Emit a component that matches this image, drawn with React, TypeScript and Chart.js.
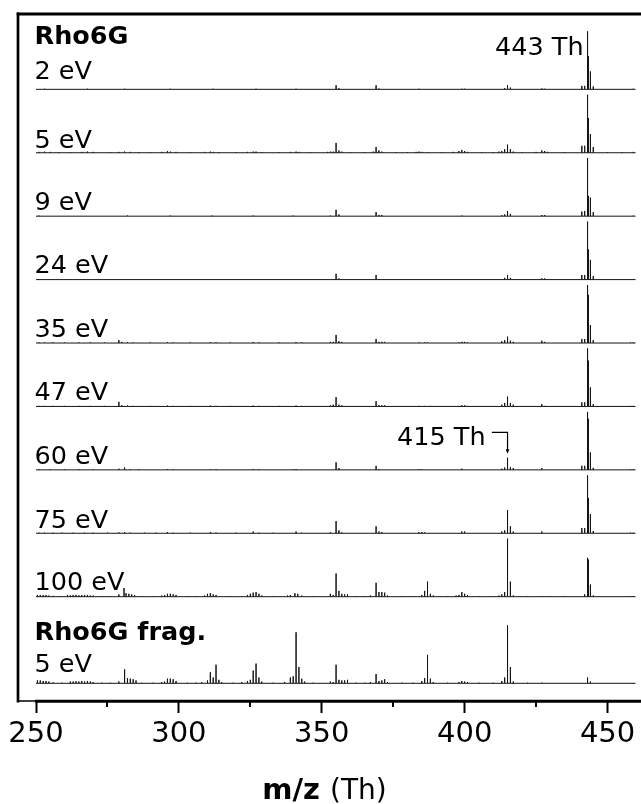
import React, { useEffect, useRef } from 'react';
import { Chart, registerables } from 'chart.js';

Chart.register(...registerables);

// ---------- data ----------
const X_MIN = 243.7;
const X_MAX = 461.7;
const MZ_START = 250;
const MZ_END = 459.8;
const TICK_VALUES = [250, 275, 300, 325, 350, 375, 400, 425, 450];
const MAJOR_TICKS = [250, 300, 350, 400, 450];

const TRACE_LABELS = ['2 eV', '5 eV', '9 eV', '24 eV', '35 eV', '47 eV', '60 eV', '75 eV', '100 eV', '5 eV'];
const GROUP_TITLES = ['Rho6G', 'Rho6G frag.'];
const AXIS_TITLE_BOLD = 'm/z';
const AXIS_TITLE_UNIT = '(Th)';
const PARENT_LABEL = '443 Th';
const PARENT_MZ = 443;
const FRAGMENT_LABEL = '415 Th';
const FRAGMENT_MZ = 415;

// [m/z, relative intensity %]
const PEAKS_2EV: [number, number][] = [
  [253, 1], [268, 1], [281, 1], [297, 1], [312, 1], [327, 1], [341, 1],
  [355, 7], [356, 2], [369, 7], [370, 1.5], [384, 1], [399, 1], [400, 1], [414, 2], [415, 7], [416, 3], [427, 1.5], [428, 1],
  [441, 6], [442, 6], [443, 100], [443.3, 57], [444, 31], [445, 5], [459, 1],
];
const PEAKS_5EV: [number, number][] = [
  [251, 1.5], [253, 2], [255, 1.5], [258, 1], [262, 1], [266, 1.5], [268, 2], [270, 1.5], [276, 1], [279, 1.5], [281, 2], [283, 1.5],
  [286, 1], [290, 1], [294, 1.5], [296, 3], [297, 2], [299, 1.5], [304, 1], [309, 1.5], [311, 2], [312, 1.5], [314, 1], [320, 1],
  [324, 1.5], [326, 2], [327, 2], [329, 1], [335, 1], [339, 1.5], [341, 2], [342, 1.5], [346, 1],
  [352, 1.5], [353, 2], [354, 2], [355, 17], [356, 4], [357, 2], [360, 1], [365, 1], [368, 2], [369, 10], [370, 4], [371, 2],
  [376, 1], [380, 1], [383, 1.5], [384, 2], [385, 1.5], [387, 1], [392, 1], [396, 1.5], [398, 3], [399, 5], [400, 3], [401, 1.5],
  [406, 1], [410, 1], [412, 2], [413, 3], [414, 6], [415, 14], [416, 6], [417, 2], [420, 1], [425, 1.5], [427, 4], [428, 3], [429, 1.5], [435, 1],
  [441, 12], [442, 12], [443, 100], [443.3, 60], [444, 32], [445, 10], [450, 1], [455, 1], [459, 1.5],
];
const PEAKS_9EV: [number, number][] = [
  [251, 1], [282, 1], [297, 1], [311.6, 1], [326, 1], [340, 1],
  [353, 1], [355, 11], [356, 3], [369, 7], [370, 2], [371, 2], [399, 1], [413, 1.5], [414, 3], [415, 9], [416, 4], [427, 2], [428, 2],
  [441, 8], [442, 9], [443, 100], [443.3, 35], [444, 32], [445, 7], [459, 1],
];
const PEAKS_24EV: [number, number][] = [
  [251, 1], [282, 1], [297, 1], [312, 1], [326, 1], [340, 1],
  [355, 10], [356, 2], [369, 8], [370, 1], [384, 0.5], [399, 0.5], [414, 3], [415, 8], [416, 3], [427, 2], [428, 2],
  [441, 8], [442, 8], [443, 100], [443.3, 52], [444, 34], [445, 6], [459, 1],
];
const PEAKS_35EV: [number, number][] = [
  [251, 1], [253, 1], [256, 1], [260, 1], [265, 1], [269, 1], [274, 1], [279, 5], [280, 2], [282, 1.5], [284, 1], [290, 1],
  [296, 1.5], [298, 1], [304, 1], [311, 1.5], [313, 1], [318, 1], [326, 1.5], [328, 1], [335, 1], [341, 1.5], [343, 1],
  [353, 2], [354, 2], [355, 14], [356, 3], [357, 2], [369, 7], [370, 2], [371, 2], [372, 2], [384, 1], [386, 1], [387, 1],
  [398, 1], [399, 2], [400, 2], [401, 1], [413, 3], [414, 5], [415, 11], [416, 4], [417, 2], [427, 4], [428, 2],
  [441, 7], [442, 7], [443, 100], [443.3, 83], [444, 31], [445, 5], [458, 1], [459, 1],
];
const PEAKS_47EV: [number, number][] = [
  [251, 1], [253, 1], [256, 1], [260, 1], [265, 1], [269, 1], [274, 1], [279, 8], [280, 2], [282, 1.5], [284, 1], [290, 1],
  [296, 1.5], [298, 1], [304, 1], [311, 1.5], [313, 1], [318, 1], [326, 1.5], [328, 1], [335, 1], [341, 1.5], [343, 1],
  [353, 2], [354, 3], [355, 16], [356, 3], [357, 2], [369, 9], [370, 2], [371, 2], [372, 2], [384, 1], [386, 1], [388, 1],
  [398, 1], [399, 2], [400, 2], [401, 1], [413, 3], [414, 6], [415, 17], [416, 6], [417, 3], [427, 4], [428, 1],
  [441, 7], [442, 7], [443, 100], [443.3, 79], [444, 33], [445, 4], [458, 1], [459, 1],
];
const PEAKS_60EV: [number, number][] = [
  [251, 1], [255, 1], [260, 1], [265, 1], [270, 1], [279, 2], [281, 4], [283, 1], [286, 1], [296, 1.5], [298, 1], [311, 1],
  [313, 1], [326, 1.5], [328, 1], [340, 1], [341, 1.5],
  [355, 13], [356, 3], [369, 7], [370, 1], [384, 1], [385, 1], [399, 2], [413, 2], [414, 4], [415, 21], [416, 5], [417, 3], [427, 3],
  [441, 7], [442, 7], [443, 100], [443.3, 88], [444, 30], [445, 3.5], [458, 1], [459, 1],
];
const PEAKS_75EV: [number, number][] = [
  [251, 1], [253, 1], [256, 1], [259, 1], [263, 1], [267, 1], [270, 1], [275, 1], [279, 1.5], [281, 2], [283, 1], [288, 1],
  [292, 1], [296, 2], [298, 1], [304, 1], [311, 2], [313, 1], [320, 1], [326, 3], [328, 1], [333, 1], [341, 3], [343, 1],
  [353, 1.5], [355, 21], [356, 5], [357, 1.5], [369, 12], [370, 3], [371, 2], [384, 2], [385, 2], [386, 1.5], [399, 3], [400, 3],
  [413, 3], [414, 5], [415, 40], [416, 12], [417, 3], [427, 3],
  [441, 9], [442, 9], [443, 100], [443.3, 61], [444, 33], [445, 4], [458, 1], [459, 1],
];
const PEAKS_100EV: [number, number][] = [
  [250.5, 3], [251.5, 3], [252.5, 3], [253.5, 3], [254.5, 2], [256, 1.5], [258, 1], [261, 3], [262, 2.5], [263, 3], [264, 3],
  [265, 2.5], [266, 3], [267, 3], [268, 3], [269, 2], [270, 2], [273, 1], [276, 1], [279, 4], [280.8, 15], [281.5, 6], [282.5, 5],
  [283.5, 4], [284.5, 3], [287, 1], [291, 1], [294, 2], [295, 3], [296, 5], [297, 5], [298, 4], [299, 3], [303, 1], [306, 1],
  [309, 2], [310, 5], [311, 6], [312, 4], [313, 3], [318, 1], [322, 1], [324, 3], [325, 5], [326, 7], [327, 8], [328, 5], [329, 2],
  [333, 1], [338, 2], [339, 3], [340.6, 6], [341.6, 5], [343, 2], [347, 1],
  [353, 5], [354, 3], [355, 40], [356, 10], [357, 5], [358, 4], [359, 4], [362, 1], [365, 1], [367, 2], [369, 24], [370, 8],
  [371, 8], [372, 7], [373, 2], [378, 1], [382, 1], [385, 3], [386, 10], [387, 26], [388, 5], [389, 2], [394, 1], [397, 2],
  [398, 3], [399, 8], [400, 5], [401, 3], [405, 1], [410, 1], [412, 2], [413, 4], [414, 8], [415, 100], [416, 26], [417, 2],
  [422, 1], [427, 1], [430, 1], [435, 1],
  [442, 4], [443, 67], [443.3, 64], [444, 21], [445, 2], [458, 1], [459, 1],
];
const PEAKS_FRAG_5EV: [number, number][] = [
  [250.5, 5], [251.5, 5], [252.5, 4], [253.5, 4], [254.5, 3], [256, 1.5], [259, 1], [262, 3], [263, 3], [264, 3.5], [265, 3],
  [266, 4], [267, 3], [268, 4], [269, 3], [270, 2], [273, 1], [276, 1], [279, 3], [281, 24], [282, 9], [283, 8], [284, 7], [285, 5],
  [287, 1], [291, 1], [294, 2], [295, 3], [296, 8], [297, 8], [298, 7], [299, 4], [303, 1], [306, 1], [308, 2], [310, 5], [311, 19],
  [312, 10], [313, 32], [314, 6], [315, 2], [319, 1], [322, 2], [324, 4], [325, 6], [326, 22], [327, 34], [328, 10], [329, 3],
  [333, 1], [337, 2], [339, 10], [340, 12], [341, 88], [342, 28], [343, 8], [344, 3], [347, 1],
  [353, 3], [354, 2], [355, 32], [356, 6], [357, 5], [358, 5], [359, 6], [362, 1], [365, 1], [367, 2], [369, 16], [370, 4],
  [371, 5], [372, 7], [373, 2], [378, 1], [382, 1], [385, 4], [386, 9], [387, 49], [388, 8], [389, 2], [394, 1], [398, 2],
  [399, 4], [400, 3], [401, 2], [405, 1], [410, 1], [413, 4], [414, 10], [415, 100], [416, 28], [417, 3], [422, 1], [427, 1],
  [432, 0.5], [443, 10], [444, 3], [459, 0.5],
];

const SPECTRA = [
  PEAKS_2EV, PEAKS_5EV, PEAKS_9EV, PEAKS_24EV, PEAKS_35EV,
  PEAKS_47EV, PEAKS_60EV, PEAKS_75EV, PEAKS_100EV, PEAKS_FRAG_5EV,
];

// ---------- layout (not data) ----------
const W = 641;
const H = 804;
const Y_MAX = 687; // chart-area height in y units
const BASE_LAST_STACK = 104.3;
const TRACE_STEP = 63.42;
const BASE_FRAG = 17.7;
const UNITS_PER_PCT = 0.58;
const LABEL_GAP = [10, 5, 6.5, 6.5, 6, 6.5, 6, 5, 7, 11.5];
const TEXT_FONT = '25.5px "DejaVu Sans"';
const BOLD_FONT = 'bold 25.5px "DejaVu Sans"';

const BASES = SPECTRA.map((_, i) =>
  i < SPECTRA.length - 1 ? BASE_LAST_STACK + (SPECTRA.length - 2 - i) * TRACE_STEP : BASE_FRAG
);

function buildTrace(peaks: [number, number][], base: number) {
  const pts: { x: number; y: number }[] = [{ x: MZ_START, y: base }];
  const sorted = [...peaks].sort((a, b) => a[0] - b[0]);
  for (const [mz, pct] of sorted) {
    pts.push({ x: mz, y: base }, { x: mz, y: base + pct * UNITS_PER_PCT }, { x: mz, y: base });
  }
  pts.push({ x: MZ_END, y: base });
  return pts;
}

const overlayPlugin = {
  id: 'overlay',
  afterDraw(chart: any) {
    const { ctx, chartArea } = chart;
    const xs = chart.scales.x;
    const ys = chart.scales.y;
    const line = (x1: number, y1: number, x2: number, y2: number, w: number) => {
      ctx.lineWidth = w;
      ctx.beginPath();
      ctx.moveTo(x1, y1);
      ctx.lineTo(x2, y2);
      ctx.stroke();
    };
    ctx.save();
    ctx.strokeStyle = '#000';
    ctx.fillStyle = '#000';
    const x250 = xs.getPixelForValue(MAJOR_TICKS[0]);
    // frame
    line(chartArea.left - 1.3, chartArea.top, chartArea.right, chartArea.top, 3);
    line(chartArea.left, chartArea.top - 1.5, chartArea.left, chartArea.bottom + 1.5, 2.7);
    line(chartArea.left, chartArea.bottom, x250, chartArea.bottom, 1.5);
    line(x250 - 1, chartArea.bottom + 0.3, chartArea.right, chartArea.bottom + 0.3, 3);
    // minor ticks
    for (const v of TICK_VALUES) {
      if (MAJOR_TICKS.includes(v)) continue;
      const px = Math.round(xs.getPixelForValue(v));
      line(px, chartArea.bottom, px, chartArea.bottom + 6, 2);
    }
    // trace labels
    ctx.textBaseline = 'alphabetic';
    ctx.textAlign = 'left';
    const lx = x250 - 1.5;
    ctx.font = TEXT_FONT;
    TRACE_LABELS.forEach((t, i) => {
      ctx.fillText(t, lx, ys.getPixelForValue(BASES[i]) - LABEL_GAP[i]);
    });
    ctx.font = BOLD_FONT;
    ctx.fillText(GROUP_TITLES[0], lx, ys.getPixelForValue(BASES[0]) - 45);
    ctx.fillText(GROUP_TITLES[1], lx, ys.getPixelForValue(BASES[SPECTRA.length - 1]) - 43.3);
    // peak annotations
    ctx.font = TEXT_FONT;
    ctx.textAlign = 'right';
    ctx.fillText(PARENT_LABEL, xs.getPixelForValue(PARENT_MZ) - 4, ys.getPixelForValue(BASES[0]) - 34.3);
    const b60 = ys.getPixelForValue(BASES[6]);
    const px415 = xs.getPixelForValue(FRAGMENT_MZ);
    ctx.fillText(FRAGMENT_LABEL, px415 - 22, b60 - 25);
    ctx.lineWidth = 1.2;
    ctx.beginPath();
    ctx.moveTo(px415 - 15.7, b60 - 37.4);
    ctx.lineTo(px415, b60 - 37.4);
    ctx.lineTo(px415, b60 - 19);
    ctx.stroke();
    ctx.beginPath();
    ctx.moveTo(px415 - 1.8, b60 - 20.5);
    ctx.lineTo(px415 + 1.8, b60 - 20.5);
    ctx.lineTo(px415, b60 - 16);
    ctx.closePath();
    ctx.fill();
    // axis title (bold m/z + regular (Th))
    ctx.textAlign = 'left';
    ctx.font = 'bold 29px "DejaVu Sans"';
    const wb = ctx.measureText(AXIS_TITLE_BOLD + ' ').width;
    ctx.font = '28px "DejaVu Sans"';
    const wu = ctx.measureText(AXIS_TITLE_UNIT).width;
    const cx = (xs.left + xs.right) / 2 - 5;
    const ty = chartArea.bottom + 98;
    const sx = cx - (wb + wu) / 2;
    ctx.font = 'bold 29px "DejaVu Sans"';
    ctx.fillText(AXIS_TITLE_BOLD, sx, ty);
    ctx.font = '28px "DejaVu Sans"';
    ctx.fillText(AXIS_TITLE_UNIT, sx + wb, ty);
    ctx.restore();
  },
};

export default function App() {
  const ref = useRef<HTMLCanvasElement | null>(null);
  useEffect(() => {
    if (!ref.current) return;
    const chart = new Chart(ref.current, {
      type: 'line',
      data: {
        datasets: SPECTRA.map((p, i) => ({
          label: TRACE_LABELS[i],
          data: buildTrace(p, BASES[i]),
          borderColor: '#151515',
          borderWidth: 1,
          pointRadius: 0,
          tension: 0,
          fill: false,
        })),
      },
      options: {
        animation: false,
        responsive: false,
        maintainAspectRatio: false,
        layout: { padding: { left: 18, top: 14, right: 0, bottom: 43 } },
        plugins: { legend: { display: false }, tooltip: { enabled: false } },
        scales: {
          x: {
            type: 'linear',
            min: X_MIN,
            max: X_MAX,
            afterBuildTicks: (s: any) => {
              s.ticks = TICK_VALUES.map((v) => ({ value: v }));
            },
            afterFit: (s: any) => {
              s.height = 60;
            },
            border: { display: false },
            grid: {
              display: true,
              drawOnChartArea: false,
              drawTicks: true,
              tickLength: 12,
              tickWidth: 2,
              tickColor: (c: any) => (c.tick && MAJOR_TICKS.includes(c.tick.value) ? '#000' : 'rgba(0,0,0,0)'),
            },
            ticks: {
              autoSkip: false,
              maxRotation: 0,
              minRotation: 0,
              padding: 4,
              color: '#000',
              font: { family: 'DejaVu Sans', size: 29 },
              callback: (v: any) => (MAJOR_TICKS.includes(Number(v)) ? String(v) : ''),
            },
          },
          y: { type: 'linear', display: false, min: 0, max: Y_MAX },
        },
      },
      plugins: [overlayPlugin],
    });
    return () => chart.destroy();
  }, []);
  return (
    <div style={{ position: 'absolute', left: 0, top: 0, width: W, height: H, background: '#fff' }}>
      <canvas ref={ref} width={W} height={H} style={{ display: 'block' }} />
    </div>
  );
}
